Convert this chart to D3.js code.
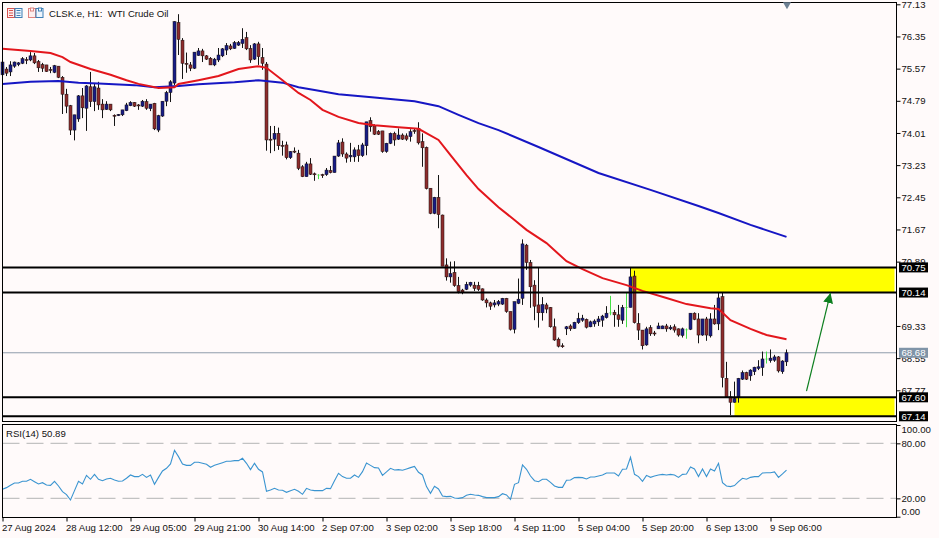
<!DOCTYPE html>
<html>
<head>
<meta charset="utf-8">
<script src="https://cdn.jsdelivr.net/npm/d3@7"></script>
<style>
	html, body { margin: 0; padding: 0; background: #fffafa; }
	svg { display: block; }
	text { font-family: "Liberation Sans", Arial, sans-serif; font-size: 9.6px; fill: #111; }
</style>
</head>
<body>
<svg id="chart" width="939" height="538"></svg>
<script>
// hourly candles
const opens = [75.42,75.56,75.49,75.63,75.67,75.70,75.79,75.78,75.88,75.74,
	75.67,75.66,75.55,75.48,75.63,75.36,74.95,74.67,74.08,74.35,
	74.91,74.61,75.13,74.77,75.10,74.71,74.58,74.71,74.44,74.43,
	74.45,74.55,74.67,74.75,74.69,74.66,74.77,74.60,74.73,74.08,
	74.42,74.78,74.99,75.22,76.69,76.26,75.70,75.66,75.58,75.89,
	76.00,75.88,75.82,75.66,75.78,75.88,76.02,76.12,76.06,76.14,
	76.18,76.32,76.06,75.80,76.17,75.84,75.68,73.86,73.86,74.00,
	73.71,73.72,73.41,73.57,73.52,73.19,72.95,73.26,73.02,73.00,
	73.00,73.00,73.10,73.05,73.45,73.79,73.50,73.43,73.43,73.60,
	73.46,73.70,74.31,74.18,74.04,74.06,73.56,73.76,74.00,73.86,
	73.96,73.94,73.92,74.07,74.12,73.80,73.66,72.67,72.06,72.45,
	72.02,70.81,70.52,70.63,70.31,70.20,70.22,70.32,70.32,70.31,
	70.23,69.96,69.89,69.84,69.86,69.86,70.00,69.68,69.25,69.88,
	70.00,71.29,70.87,70.32,69.84,69.65,69.84,69.78,69.31,69.01,
	68.85,69.26,69.33,69.27,69.41,69.47,69.49,69.31,69.38,69.43,
	69.47,69.53,69.66,69.66,69.60,69.47,69.79,69.78,70.54,69.39,
	69.23,68.87,69.29,69.16,69.26,69.26,69.33,69.26,69.31,69.26,
	69.10,69.25,69.25,69.64,69.50,69.11,69.50,69.09,69.50,69.38,
	70.04,68.06,67.61,67.48,67.61,68.04,68.20,68.12,68.22,68.30,
	68.32,68.54,68.49,68.50,68.58,68.22,68.46];
const closes = [75.73,75.46,75.66,75.73,75.71,75.81,75.78,75.88,75.71,75.59,
	75.58,75.50,75.53,75.64,75.36,74.95,74.66,74.08,74.45,74.91,
	74.62,75.15,74.77,75.13,74.69,74.57,74.71,74.57,74.42,74.46,
	74.57,74.69,74.75,74.66,74.67,74.78,74.61,74.71,74.11,74.43,
	74.78,74.99,75.25,76.71,76.28,75.70,75.68,75.58,75.97,76.00,
	75.88,75.80,75.66,75.80,75.90,76.05,76.13,76.05,76.20,76.20,
	76.28,76.05,75.78,76.17,75.86,75.70,73.84,73.84,74.00,73.70,
	73.69,73.41,73.56,73.55,73.15,72.95,73.26,73.01,73.00,72.98,
	72.99,73.11,73.05,73.45,73.77,73.50,73.40,73.47,73.60,73.46,
	73.72,74.28,74.16,73.98,73.98,73.56,73.76,74.00,73.84,73.96,
	73.86,73.86,74.04,74.05,73.77,73.65,72.66,72.06,72.45,72.03,
	70.78,70.52,70.60,70.31,70.16,70.15,70.34,70.39,70.24,70.22,
	69.96,69.89,69.81,69.89,69.92,70.00,69.68,69.25,69.92,69.98,
	71.32,70.87,70.28,69.81,69.65,69.85,69.74,69.31,68.99,68.84,
	68.83,69.31,69.26,69.42,69.51,69.52,69.30,69.43,69.45,69.50,
	69.57,69.64,69.64,69.60,69.49,69.78,69.77,70.52,69.41,69.23,
	68.85,69.26,69.14,69.14,69.33,69.33,69.26,69.30,69.23,69.11,
	69.26,69.24,69.64,69.49,69.11,69.50,69.11,69.50,69.38,70.01,
	68.08,67.61,67.48,67.57,68.06,68.20,68.04,68.26,68.33,68.34,
	68.53,68.52,68.55,68.58,68.24,68.48,68.68];
const highs = [75.90,75.61,75.75,75.74,75.73,75.85,75.85,75.97,75.95,75.78,
	75.71,75.66,75.61,75.66,75.63,75.39,75.08,74.69,74.45,74.93,
	75.10,75.17,75.49,75.20,75.25,74.83,74.78,74.71,74.46,74.47,
	74.57,74.74,74.78,74.76,74.71,74.81,74.83,74.71,74.74,74.45,
	74.78,75.03,75.29,76.72,76.89,76.31,75.96,75.73,75.97,76.07,
	76.05,75.90,75.85,75.83,76.07,76.07,76.19,76.17,76.24,76.24,
	76.55,76.46,76.14,76.19,76.22,76.07,75.73,74.18,74.18,74.14,
	73.82,73.80,73.57,73.66,73.60,73.23,73.31,73.40,73.05,73.01,
	73.02,73.16,73.21,73.45,73.84,73.88,73.54,73.77,73.66,73.72,
	73.77,74.28,74.39,74.22,74.08,74.06,73.77,74.02,74.04,74.12,
	74.00,74.00,74.10,74.12,74.27,74.00,73.68,72.67,72.46,72.99,
	72.03,70.97,70.89,70.90,70.52,70.23,70.40,70.40,70.40,70.40,
	70.24,70.00,69.92,69.96,69.96,70.01,70.01,69.68,69.92,70.48,
	71.43,71.32,70.93,70.44,70.74,70.03,69.89,69.79,69.51,69.05,
	68.91,69.33,69.37,69.43,69.65,69.60,69.51,69.46,69.49,69.57,
	69.60,69.81,70.06,69.72,69.84,69.84,70.14,70.76,70.67,69.64,
	69.23,69.31,69.35,69.21,69.41,69.34,69.38,69.35,69.37,69.27,
	69.29,69.27,69.64,69.66,69.64,69.50,69.55,69.64,69.84,70.14,
	70.14,68.46,67.75,67.98,68.07,68.25,68.22,68.28,68.34,68.50,
	68.71,68.71,68.76,68.63,68.60,68.50,68.76];
const lows = [75.42,75.39,75.39,75.59,75.63,75.68,75.68,75.75,75.68,75.49,
	75.49,75.49,75.46,75.46,75.34,74.47,74.49,73.96,73.83,74.28,
	74.37,74.06,74.64,74.54,74.57,74.37,74.57,74.54,74.18,74.42,
	74.42,74.54,74.66,74.64,74.57,74.64,74.57,74.54,74.08,74.03,
	74.40,74.66,74.76,75.17,75.90,75.32,75.47,75.51,75.56,75.88,
	75.73,75.78,75.66,75.63,75.73,75.85,75.90,76.02,76.05,76.12,
	76.07,76.02,75.71,75.78,75.66,75.54,73.58,73.52,73.57,73.60,
	73.46,73.37,73.38,73.52,73.11,72.94,72.95,72.99,72.85,72.89,
	72.92,72.97,73.03,73.05,73.43,73.43,73.29,73.31,73.31,73.31,
	73.43,73.47,74.04,73.96,73.96,73.53,73.53,73.74,73.70,73.84,
	73.84,73.82,73.80,73.99,73.73,73.19,72.64,72.04,72.04,71.70,
	70.78,70.43,70.38,70.28,70.12,70.10,70.20,70.28,70.18,70.18,
	69.94,69.78,69.72,69.78,69.81,69.84,69.65,69.22,69.15,69.86,
	69.84,70.69,69.77,69.47,69.29,69.46,69.64,69.29,68.97,68.81,
	68.80,69.11,69.21,69.26,69.38,69.43,69.27,69.30,69.31,69.33,
	69.31,69.51,69.59,69.31,69.31,69.38,69.30,69.78,69.39,68.99,
	68.76,68.85,69.09,69.09,69.26,69.26,69.19,69.23,69.17,69.07,
	69.05,69.02,69.23,69.47,68.91,69.09,68.97,69.05,69.36,69.23,
	67.84,67.60,67.17,67.47,67.47,68.02,68.02,68.00,68.14,68.26,
	68.12,68.42,68.44,68.46,68.20,68.17,68.36];
// bars that the platform paints light green
const flatBars = [79, 152, 156, 171, 191];

// moving averages, sampled at the bars where the line bends
const redBars = [0,7,12,15,17,22,27,31,34,39,43,44,49,54,59,64,66,70,74,77,80,84,89,93,99,104,109,112,116,119,124,128,131,136,141,145,150,156,160,166,171,177,179,182,187,191,196];
const redValues = [76.05,76.00,75.95,75.85,75.73,75.56,75.42,75.29,75.20,75.10,75.12,75.20,75.29,75.39,75.56,75.63,75.59,75.29,74.98,74.81,74.57,74.40,74.25,74.20,74.15,74.11,73.84,73.47,72.99,72.65,72.21,71.90,71.66,71.34,70.90,70.71,70.49,70.32,70.18,70.01,69.86,69.76,69.74,69.47,69.26,69.11,69.01];
const blueBars = [0,7,14,19,24,33,38,44,49,58,64,70,74,78,84,93,103,109,114,119,124,134,149,162,174,179,187,196];
const blueValues = [75.20,75.25,75.27,75.23,75.21,75.17,75.12,75.15,75.19,75.24,75.29,75.23,75.12,75.05,74.95,74.87,74.78,74.66,74.45,74.25,74.08,73.67,73.04,72.63,72.24,72.07,71.78,71.49];

const rsiValues = [29.9,31.7,34.2,36.8,36.8,38.6,38.6,40.8,38.2,35.7,
	37.1,34.6,34.2,38.6,33.5,27.3,24.1,18.2,28.4,38.6,
	35.7,45.1,40.8,46.2,40.8,39.3,41.1,41.9,40.0,38.6,
	39.0,41.9,45.5,43.7,43.7,46.2,42.9,45.5,35.3,42.9,
	49.9,52.8,57.5,72.4,65.5,57.5,56.0,56.0,59.3,59.3,
	58.2,57.1,53.9,56.0,57.5,58.9,60.4,60.4,61.1,61.1,
	63.7,58.2,51.3,58.2,51.7,48.8,27.7,29.1,30.9,29.1,
	28.8,26.6,28.4,29.9,27.7,24.4,30.9,29.1,28.4,28.4,
	28.4,30.9,30.6,39.3,47.3,43.7,41.9,41.9,45.5,42.9,
	49.1,58.6,56.0,53.5,53.1,45.1,48.8,52.8,51.0,51.3,
	50.6,52.0,53.5,54.9,48.4,45.5,32.8,25.5,33.1,30.2,
	22.6,21.9,22.2,20.4,20.0,20.8,23.3,24.4,23.7,23.3,
	21.9,20.8,20.8,20.8,21.9,25.1,23.7,19.0,35.3,37.1,
	56.4,51.7,44.4,39.3,38.2,40.8,40.8,37.5,33.5,32.0,
	32.0,39.7,40.0,42.6,42.9,42.6,41.1,43.3,43.3,44.4,
	45.5,47.7,47.7,47.7,44.4,51.7,52.0,64.8,46.2,43.7,
	38.6,45.1,42.9,44.4,45.5,46.2,45.5,46.2,45.5,42.9,
	46.2,46.6,54.2,52.0,43.7,52.0,43.7,52.0,49.9,58.2,
	37.1,33.5,32.8,33.9,38.2,41.9,40.8,42.9,43.7,43.7,
	47.7,48.0,48.0,48.8,42.9,46.6,50.89];

const priceTicks = [77.13,76.35,75.57,74.79,74.01,73.23,72.45,71.67,70.89,69.33,68.55,67.77];
const rsiTicks = [100,80,20,0];
const rsiLevels = [80,20];
const timeTickBars = [0,16,32,48,64,80,96,112,128,144,160,176,192];
const timeLabels = ["27 Aug 2024","28 Aug 12:00","29 Aug 05:00","29 Aug 21:00","30 Aug 14:00","2 Sep 07:00","3 Sep 02:00","3 Sep 18:00","4 Sep 11:00","5 Sep 04:00","5 Sep 20:00","6 Sep 13:00","9 Sep 06:00"];

// support and resistance boxes: first bar, low and high price
const zoneBars = [157, 183];
const zoneLows = [70.14, 67.14];
const zoneHighs = [70.75, 67.60];
const levels = [70.75, 70.14, 67.60, 67.14];
const lastPrice = 68.68;
const arrowBars = [201, 207];
const arrowPrices = [67.75, 70.13];

const svg = d3.select("#chart");
const margin = {left: 2.5, right: 896.5, top: 2.5, mainBottom: 421.5, rsiTop: 424.5, rsiBottom: 517.5};

const x = d3.scaleLinear().domain([0, 196]).range([2.5, 786.5]);
const y = d3.scaleLinear().domain([67.77, 77.13]).range([390.3, 4.3]);
const yRsi = d3.scaleLinear().domain([0, 100]).range([516.7, 425]);

svg.append("rect").attr("width", 939).attr("height", 538).attr("fill", "#fffafa");

// yellow boxes go under everything else
svg.append("g").selectAll("rect")
	.data(zoneBars)
	.enter()
	.append("rect")
	.attr("x", d => x(d))
	.attr("width", d => margin.right - 2 - x(d))
	.attr("y", (d, i) => y(zoneHighs[i]))
	.attr("height", (d, i) => y(zoneLows[i]) - y(zoneHighs[i]))
	.attr("fill", "#ffff00");

svg.append("line")
	.attr("x1", margin.left).attr("x2", margin.right)
	.attr("y1", y(lastPrice)).attr("y2", y(lastPrice))
	.attr("stroke", "#8f9cab").attr("stroke-width", 1);

// candles
const bars = d3.range(opens.length).map(i => ({
	i: i, open: opens[i], close: closes[i], high: highs[i], low: lows[i], flat: flatBars.includes(i)
}));

function barColor(d) {
	if (d.flat) return "#45e045";
	return d.close >= d.open ? "#171c86" : "#8e2c2c";
}

const candles = svg.append("g").selectAll("g")
	.data(bars)
	.enter()
	.append("g");

candles.append("line")
	.attr("x1", d => Math.floor(x(d.i)) + 0.5)
	.attr("x2", d => Math.floor(x(d.i)) + 0.5)
	.attr("y1", d => y(d.high))
	.attr("y2", d => y(d.low))
	.attr("stroke", d => d.flat ? "#45e045" : "#141414")
	.attr("stroke-width", 1);

candles.append("rect")
	.attr("x", d => Math.floor(x(d.i)) - (d.flat ? 0.5 : 1))
	.attr("width", d => d.flat ? 2 : 3)
	.attr("y", d => y(Math.max(d.open, d.close)))
	.attr("height", d => Math.max(1, Math.abs(y(d.open) - y(d.close))))
	.attr("fill", barColor)
	.attr("stroke", d => d.flat ? "none" : "#1a1010")
	.attr("stroke-width", 0.5);

// moving averages
const maLine = d3.line().x(d => x(d[0])).y(d => y(d[1]));

svg.append("path")
	.attr("d", maLine(blueBars.map((b, i) => [b, blueValues[i]])))
	.attr("fill", "none").attr("stroke", "#1616c4").attr("stroke-width", 2);

svg.append("path")
	.attr("d", maLine(redBars.map((b, i) => [b, redValues[i]])))
	.attr("fill", "none").attr("stroke", "#e3161c").attr("stroke-width", 2);

// horizontal levels
svg.append("g").selectAll("line")
	.data(levels)
	.enter()
	.append("line")
	.attr("x1", margin.left).attr("x2", margin.right)
	.attr("y1", d => y(d)).attr("y2", d => y(d))
	.attr("stroke", "#000").attr("stroke-width", 2);

// arrow
const defs = svg.append("defs");
defs.append("marker")
	.attr("id", "arrowHead")
	.attr("markerUnits", "userSpaceOnUse")
	.attr("markerWidth", 11).attr("markerHeight", 10)
	.attr("refX", 10).attr("refY", 5)
	.attr("orient", "auto")
	.append("path")
	.attr("d", "M0,0L10,5L0,10Z")
	.attr("fill", "#0d7f1f");

svg.append("line")
	.attr("x1", x(arrowBars[0])).attr("y1", y(arrowPrices[0]))
	.attr("x2", x(arrowBars[1])).attr("y2", y(arrowPrices[1]))
	.attr("stroke", "#0d7f1f").attr("stroke-width", 1.2)
	.attr("marker-end", "url(#arrowHead)");

// RSI pane
svg.append("g").selectAll("line")
	.data(rsiLevels)
	.enter()
	.append("line")
	.attr("x1", margin.left).attr("x2", margin.right)
	.attr("y1", d => yRsi(d)).attr("y2", d => yRsi(d))
	.attr("stroke", "#c2c2c2").attr("stroke-width", 1.3)
	.attr("stroke-dasharray", "17,7");

svg.append("path")
	.attr("d", d3.line().x((d, i) => x(i)).y(d => yRsi(d))(rsiValues))
	.attr("fill", "none").attr("stroke", "#3a94d0").attr("stroke-width", 1.1);

// pane frames
svg.append("rect")
	.attr("x", margin.left).attr("y", margin.top)
	.attr("width", margin.right - margin.left).attr("height", margin.mainBottom - margin.top)
	.attr("fill", "none").attr("stroke", "#000").attr("stroke-width", 1);
svg.append("rect")
	.attr("x", margin.left).attr("y", margin.rsiTop)
	.attr("width", margin.right - margin.left).attr("height", margin.rsiBottom - margin.rsiTop)
	.attr("fill", "none").attr("stroke", "#000").attr("stroke-width", 1);

// axes
const priceAxis = svg.append("g")
	.attr("transform", "translate(" + margin.right + ",0)")
	.call(d3.axisRight(y).tickValues(priceTicks).tickFormat(d3.format(".2f")).tickSize(4).tickPadding(1).tickSizeOuter(0));
const rsiAxis = svg.append("g")
	.attr("transform", "translate(" + margin.right + ",0)")
	.call(d3.axisRight(yRsi).tickValues(rsiTicks).tickFormat(d3.format(".2f")).tickSize(4).tickPadding(1).tickSizeOuter(0));
rsiAxis.selectAll("text")
	.attr("dy", d => d == 100 ? "0.8em" : (d == 0 ? "-0.2em" : "0.32em"));
const timeAxis = svg.append("g")
	.attr("transform", "translate(0," + margin.rsiBottom + ")")
	.call(d3.axisBottom(x).tickValues(timeTickBars).tickFormat((d, i) => timeLabels[i]).tickSize(4).tickPadding(3).tickSizeOuter(0));
timeAxis.selectAll("text").attr("text-anchor", "start").attr("x", -1);

[priceAxis, rsiAxis, timeAxis].forEach(function(a) {
	a.select(".domain").remove();
	a.selectAll("line").attr("stroke", "#000");
	a.selectAll("text").attr("font-family", null).attr("font-size", null).attr("fill", "#111");
});

// price tags on top of the axis labels
const tags = svg.append("g").selectAll("g")
	.data(levels.map(d => ({price: d, color: "#000"})).concat([{price: lastPrice, color: "#8094a8"}]))
	.enter()
	.append("g")
	.attr("transform", d => "translate(899," + y(d.price) + ")");
tags.append("rect")
	.attr("x", 0).attr("y", -5).attr("width", 29).attr("height", 10)
	.attr("fill", d => d.color);
tags.append("text")
	.attr("x", 2.5).attr("dy", "0.34em")
	.style("fill", "#fff")
	.text(d => d3.format(".2f")(d.price));

// header
svg.append("text").attr("x", 49).attr("y", 17).attr("xml:space", "preserve").text("CLSK.e, H1:  WTI Crude Oil").style("font-size", "9.6px");
svg.append("text").attr("x", 6).attr("y", 437).text("RSI(14) 50.89");

// toolbar icons in the corner
function icon(px, colorLeft, colorRight) {
	const g = svg.append("g").attr("transform", "translate(" + px + ",8.5)");
	g.append("rect").attr("width", 7).attr("height", 9).attr("fill", "#fdeeee").attr("stroke", colorLeft).attr("stroke-width", 1);
	g.append("rect").attr("x", 7.5).attr("width", 7).attr("height", 9).attr("fill", "#eef5fd").attr("stroke", colorRight).attr("stroke-width", 1);
	return g;
}
const listIcon = icon(7.5, "#d9534f", "#3d7fb5");
d3.range(3).forEach(function(k) {
	listIcon.append("line").attr("x1", 1.5).attr("x2", 5.5).attr("y1", 2 + k * 2.5).attr("y2", 2 + k * 2.5).attr("stroke", "#d9534f");
	listIcon.append("line").attr("x1", 9).attr("x2", 13).attr("y1", 2 + k * 2.5).attr("y2", 2 + k * 2.5).attr("stroke", "#3d7fb5");
});
const saveIcon = icon(28.5, "#e0837f", "#3d7fb5");
saveIcon.append("rect").attr("x", 2).attr("y", -0.5).attr("width", 3).attr("height", 3).attr("fill", "#fffafa").attr("stroke", "#e0837f");
saveIcon.append("rect").attr("x", 10).attr("y", -0.5).attr("width", 3).attr("height", 3).attr("fill", "#fffafa").attr("stroke", "#3d7fb5");

// the small shift marker on the top edge
svg.append("path")
	.attr("d", d3.symbol().type(d3.symbolTriangle).size(28))
	.attr("transform", "translate(787,4.5) rotate(180)")
	.attr("fill", "#6d8093");
</script>
</body>
</html>
